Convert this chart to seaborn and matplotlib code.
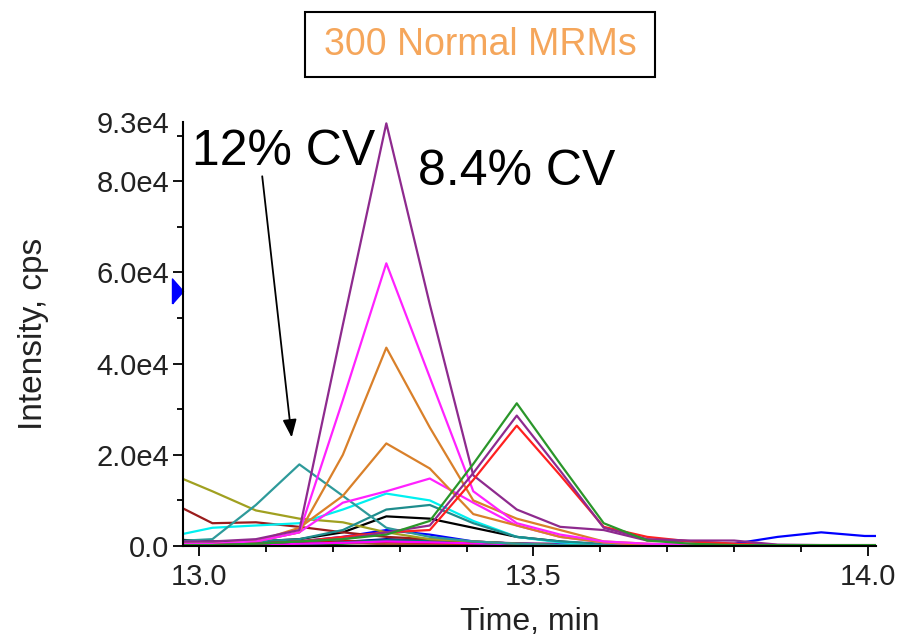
import pandas as pd
import seaborn as sns
import matplotlib.pyplot as plt
from matplotlib.patches import Rectangle
from matplotlib.ticker import FixedLocator, MultipleLocator

# data: scan times (min) and intensity (cps) of the visible MRM traces
times = [12.955, 13.02, 13.085, 13.15, 13.215, 13.28, 13.345, 13.41, 13.475,
         13.54, 13.605, 13.67, 13.735, 13.80, 13.865, 13.93, 13.995, 14.06]

navy      = [200, 300, 400, 600, 900, 1500, 1200, 700, 300, 150, 50, 20, 20, 20, 20, 20, 20, 20]
darkgreen = [800, 300, 200, 300, 500, 900, 700, 400, 200, 100, 50, 20, 20, 20, 20, 20, 20, 20]
purple3   = [100, 200, 300, 500, 800, 1100, 1300, 900, 600, 500, 300, 100, 50, 20, 20, 20, 20, 20]
sienna    = [300, 400, 600, 900, 700, 400, 300, 200, 100, 50, 20, 20, 20, 20, 20, 20, 50, 50]
red2      = [100, 200, 300, 600, 1100, 900, 700, 500, 300, 100, 50, 20, 20, 20, 20, 20, 20, 20]
teal3     = [100, 100, 200, 400, 800, 1300, 1100, 600, 300, 100, 50, 20, 20, 20, 20, 20, 20, 20]
magenta3  = [50, 100, 200, 500, 700, 1000, 800, 600, 400, 300, 200, 100, 80, 100, 120, 60, 20, 20]
blue      = [200, 300, 500, 1000, 2000, 3500, 2500, 1000, 500, 300, 200, 200, 200, 500, 2000, 3000, 2200, 2200]
black     = [1500, 1000, 1000, 1500, 3000, 6500, 6000, 4000, 2000, 1000, 300, 100, 50, 50, 50, 50, 50, 50]
maroon    = [9800, 5000, 5200, 4200, 3000, 2000, 1500, 1000, 500, 200, 100, 50, 50, 50, 50, 50, 50, 50]
olive     = [16000, 12000, 7800, 6000, 5200, 3000, 1500, 1000, 500, 200, 100, 50, 50, 50, 50, 50, 50, 50]
cyan      = [2000, 4000, 4500, 5000, 8000, 11500, 10000, 5500, 2000, 800, 300, 100, 50, 50, 50, 50, 50, 50]
teal2     = [500, 500, 1000, 1500, 3500, 8000, 9000, 5000, 2000, 1000, 500, 100, 50, 50, 50, 50, 50, 50]
teal_cv   = [1000, 1500, 9000, 17900, 11000, 4000, 2000, 1000, 500, 200, 100, 50, 50, 50, 50, 50, 50, 50]
magenta2  = [200, 500, 1000, 3000, 9500, 12000, 14800, 9500, 4500, 2000, 800, 200, 100, 50, 50, 50, 50, 50]
orange2   = [500, 500, 1000, 4000, 11000, 22500, 17000, 7000, 4500, 2000, 800, 200, 100, 50, 50, 50, 50, 50]
orange    = [500, 500, 1000, 3000, 20000, 43500, 26000, 10000, 6000, 3500, 1000, 500, 200, 100, 50, 50, 50, 50]
magenta   = [500, 500, 1000, 3000, 32000, 62000, 37000, 12000, 5000, 2500, 1000, 500, 300, 200, 200, 200, 200, 200]
purple    = [1000, 1000, 1500, 3500, 48500, 92700, 53000, 15500, 8000, 4200, 3500, 1200, 1000, 500, 200, 200, 200, 200]
red       = [200, 200, 500, 1000, 2000, 3000, 3500, 14500, 26400, 15500, 4200, 2000, 1000, 500, 200, 200, 200, 200]
purple2   = [200, 200, 500, 1000, 1500, 3000, 4500, 16000, 28600, 16500, 4000, 1500, 1200, 1200, 300, 200, 200, 200]
green     = [200, 200, 500, 1000, 1500, 2500, 5500, 18000, 31300, 18000, 5000, 1200, 500, 200, 200, 200, 200, 200]

traces = {
    "navy": navy, "darkgreen": darkgreen, "purple3": purple3, "sienna": sienna,
    "red2": red2, "teal3": teal3, "magenta3": magenta3, "blue": blue,
    "black": black, "maroon": maroon, "olive": olive, "cyan": cyan,
    "teal2": teal2, "teal_cv": teal_cv, "magenta2": magenta2, "orange2": orange2,
    "orange": orange, "magenta": magenta, "purple": purple, "red": red,
    "purple2": purple2, "green": green,
}

colors = {
    "navy": "#000080", "darkgreen": "#006400", "purple3": "#7B1C7B", "sienna": "#A0522D",
    "red2": "#E00000", "teal3": "#007878", "magenta3": "#FF00FF", "blue": "#0000FF",
    "black": "#000000", "maroon": "#9A1C1C", "olive": "#A0A020", "cyan": "#00F0F0",
    "teal2": "#1E8C8C", "teal_cv": "#2E9A9A", "magenta2": "#FF22FF", "orange2": "#D9802A",
    "orange": "#D9802A", "magenta": "#FF22FF", "purple": "#8E2A8E", "red": "#FF2020",
    "purple2": "#8E2A8E", "green": "#2A962A",
}

y_ticks = [0, 20000, 40000, 60000, 80000, 93000]
y_labels = ["0.0", "2.0e4", "4.0e4", "6.0e4", "8.0e4", "9.3e4"]
x_ticks = [13.0, 13.5, 14.0]
x_labels = ["13.0", "13.5", "14.0"]
marker_level = 56000

rows = []
for name, vals in traces.items():
    for t, v in zip(times, vals):
        rows.append({"time": t, "intensity": v, "trace": name})
df = pd.DataFrame(rows)

sns.set_theme(style="white")
plt.rcParams["font.family"] = ["Liberation Sans", "DejaVu Sans"]

fig = plt.figure(figsize=(9, 6.36), dpi=100)
ax = fig.add_axes([0.2033, 0.1415, 0.77, 0.6667])

sns.lineplot(data=df, x="time", y="intensity", hue="trace", palette=colors,
             estimator=None, sort=True, linewidth=1.6, legend=False, ax=ax)

ax.set_xlim(12.976, 14.012)
ax.set_ylim(0, 93000)

# axes styling
for side in ["top", "right"]:
    ax.spines[side].set_visible(False)
for side in ["left", "bottom"]:
    ax.spines[side].set_color("black")
    ax.spines[side].set_linewidth(1.5)

ax.yaxis.set_major_locator(FixedLocator(y_ticks))
ax.set_yticklabels(y_labels)
ax.yaxis.set_minor_locator(FixedLocator([10000, 30000, 50000, 70000, 90000]))
ax.xaxis.set_major_locator(FixedLocator(x_ticks))
ax.set_xticklabels(x_labels)
ax.xaxis.set_minor_locator(MultipleLocator(0.1))
ax.tick_params(which="major", direction="out", length=7, width=1.3, color="black",
               labelsize=21, labelcolor="#222222", left=True, bottom=True)
ax.tick_params(which="minor", direction="out", length=4, width=1.3, color="black",
               left=True, bottom=True)
ax.tick_params(axis="x", pad=5)
ax.tick_params(axis="y", pad=3)
ax.yaxis.get_major_ticks()[-1].tick1line.set_visible(False)

ax.set_xlabel("Time, min", fontsize=23, color="#222222", labelpad=12)
ax.set_ylabel("Intensity, cps", fontsize=24, color="#222222", labelpad=34)

# blue marker on the y axis
ax.plot([12.976], [marker_level], marker=[(-0.88, -1), (0, 0), (-0.88, 1), (-0.88, -1)],
        markersize=18, color="#0000FF", linestyle="none", clip_on=False)

# annotations
ax.text(12.9895, 91500, "12% CV", fontsize=36, color="black", va="top", ha="left")
ax.text(13.327, 87000, "8.4% CV", fontsize=36, color="black", va="top", ha="left")
ax.annotate("", xy=(13.139, 23200), xytext=(13.094, 81700),
            arrowprops=dict(arrowstyle="-|>,head_length=0.9,head_width=0.35",
                            color="black", lw=1.3))

# title box
fig.patches.append(Rectangle((305 / 900, 1 - 77 / 636), 350 / 900, 65 / 636,
                             transform=fig.transFigure, fill=False,
                             edgecolor="black", linewidth=1.5))
fig.text(480 / 900, 1 - 45 / 636, "300 Normal MRMs", fontsize=27, color="#F5A65B",
         ha="center", va="center")

fig.savefig("out.png", dpi=100)
